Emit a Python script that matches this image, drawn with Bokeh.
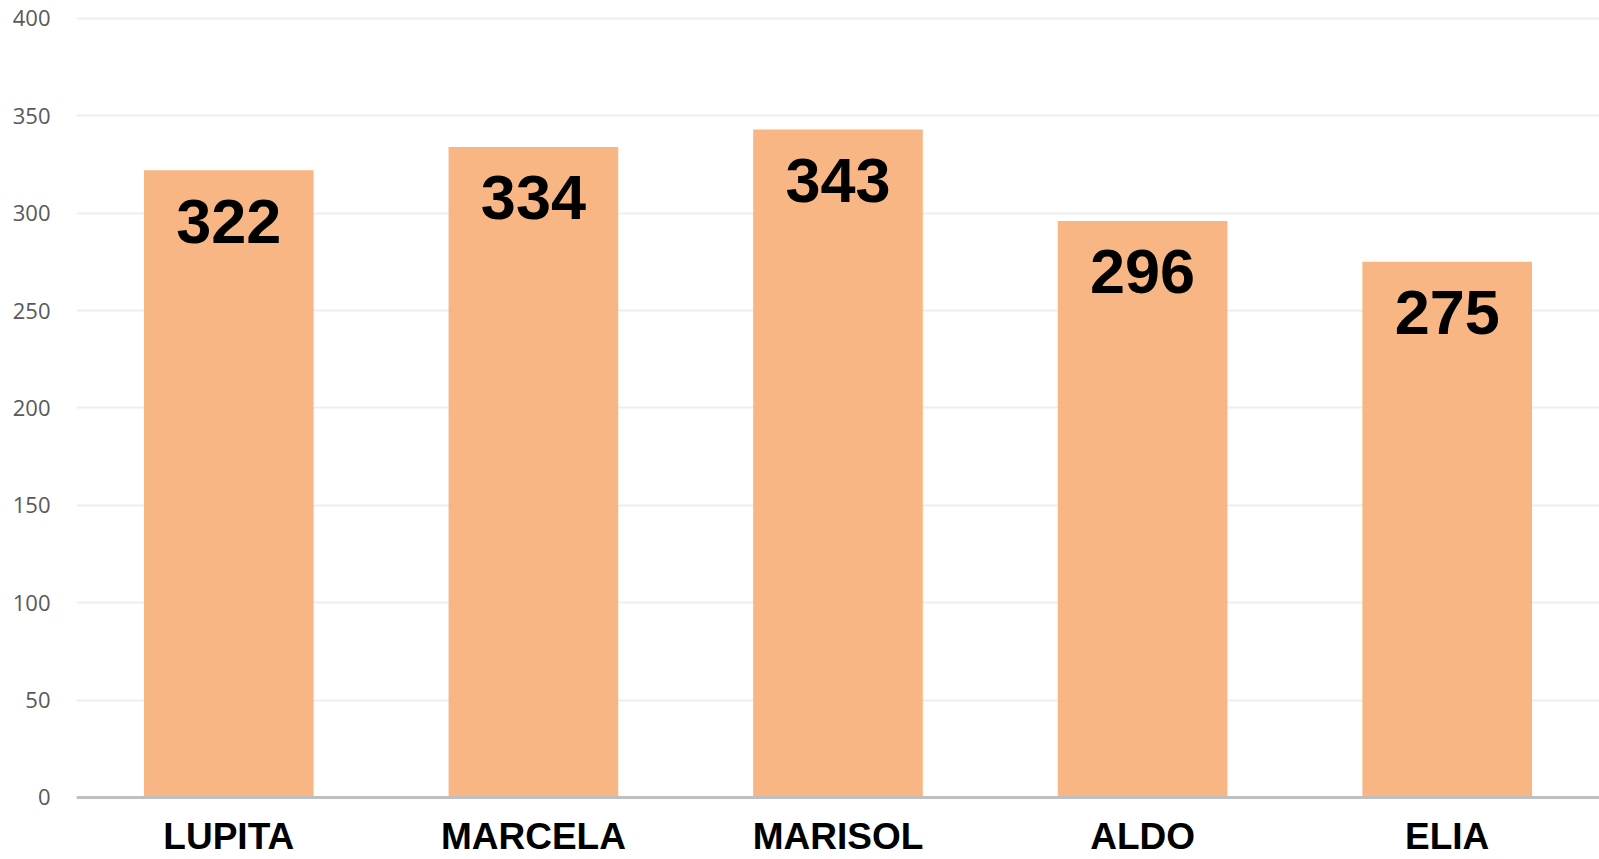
from bokeh.plotting import figure
from bokeh.models import Range1d, FactorRange, FixedTicker, ColumnDataSource, Span
from bokeh.core.properties import value
from bokeh.embed import file_html
from bokeh.resources import INLINE

names = ["LUPITA", "MARCELA", "MARISOL", "ALDO", "ELIA"]
scores = [322, 334, 343, 296, 275]
y_ticks = [0, 50, 100, 150, 200, 250, 300, 350, 400]

src = ColumnDataSource(dict(name=names, score=scores, label=[str(v) for v in scores],
                            base=[0] * len(names)))

p = figure(width=1599, height=859, x_range=FactorRange(*names, range_padding=0),
           y_range=Range1d(-31.9, 401), output_backend="svg", toolbar_location=None,
           min_border_left=76, min_border_right=0, min_border_top=16, min_border_bottom=0)
p.outline_line_color = None
p.background_fill_color = "white"

p.vbar(x="name", top="score", width=0.557, source=src, fill_color="#F7B07A",
       fill_alpha=0.92, line_color=None)

p.text(x="name", y="score", text="label", source=src, text_align="center",
       text_baseline="alphabetic", y_offset=51, text_font=value("Liberation Sans"),
       text_font_style="bold", text_font_size="63px", text_color="black")

p.xgrid.grid_line_color = None
p.ygrid.grid_line_color = "#eeeeee"
p.ygrid.grid_line_width = 2
p.yaxis.ticker = FixedTicker(ticks=y_ticks)
p.yaxis.axis_line_color = None
p.yaxis.major_tick_line_color = None
p.yaxis.minor_tick_line_color = None
p.yaxis.major_label_standoff = 20
p.yaxis.major_label_text_font = "Open Sans"
p.yaxis.major_label_text_font_size = "22px"
p.yaxis.major_label_text_color = "#595959"

p.xaxis.visible = False
p.add_layout(Span(location=0, dimension="width", line_color="#bfbfbf", line_width=3))

p.text(x="name", y="base", text="name", source=src, text_align="center",
       text_baseline="middle", y_offset=39, text_font=value("Liberation Sans"),
       text_font_style="bold", text_font_size="37px", text_color="black")

open("out.html", "w").write(file_html(p, INLINE))
